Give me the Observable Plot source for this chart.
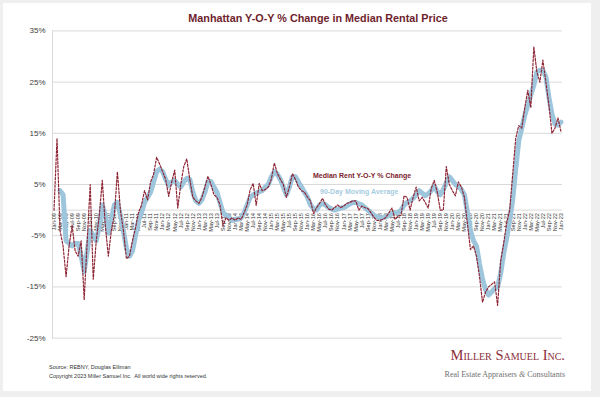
<!DOCTYPE html>
<html><head><meta charset="utf-8">
<script src="https://cdn.jsdelivr.net/npm/d3@7"></script>
<script src="https://cdn.jsdelivr.net/npm/@observablehq/plot@0.6"></script>
<style>
html,body{margin:0;padding:0;background:#efefef;}
#frame{position:relative;width:600px;height:397px;background:#efefef;overflow:hidden;font-family:"Liberation Sans",Arial,sans-serif;}
#card{position:absolute;left:3px;top:3px;width:588px;height:388px;background:#fff;}
#chart{position:absolute;left:0;top:0;}
.t{position:absolute;white-space:nowrap;}
</style></head><body>
<div id="frame">
<div id="card"></div>
<div id="chart"></div>
<div class="t" style="left:0;width:636px;top:12px;text-align:center;font-size:10.8px;line-height:12px;font-weight:bold;color:#6e1e2c">Manhattan Y-O-Y % Change in Median Rental Price</div>
<div class="t" style="left:313px;top:172px;font-size:7px;line-height:8px;font-weight:bold;color:#7c1d2c">Median Rent Y-O-Y % Change</div>
<div class="t" style="left:320px;top:188px;font-size:7px;line-height:8px;font-weight:bold;color:#a6cce0">90-Day Moving Average</div>
<div class="t" style="left:49px;top:364px;font-size:5.5px;line-height:6px;color:#333">Source: REBNY, Douglas Elliman</div>
<div class="t" style="left:49px;top:373px;font-size:5.5px;line-height:6px;color:#333">Copyright 2023 Miller Samuel Inc.&nbsp; All world wide rights reserved.</div>
<div class="t" style="right:35px;top:348px;font-family:'Liberation Serif',serif;font-variant:small-caps;font-size:14.5px;line-height:15px;color:#8c2d3a">Miller Samuel Inc.</div>
<div class="t" style="right:35px;top:370px;font-family:'Liberation Serif',serif;font-size:8px;line-height:9px;color:#707070">Real Estate Appraisers <i>&amp;</i> Consultants</div>
</div>
<script>
const yTicks = [35, 25, 15, 5, -5, -15, -25];

const xLabels = [
"Jan-09","Mar-09","May-09","Jul-09","Sep-09","Nov-09",
"Jan-10","Mar-10","May-10","Jul-10","Sep-10","Nov-10",
"Jan-11","Mar-11","May-11","Jul-11","Sep-11","Nov-11",
"Jan-12","Mar-12","May-12","Jul-12","Sep-12","Nov-12",
"Jan-13","Mar-13","May-13","Jul-13","Sep-13","Nov-13",
"Jan-14","Mar-14","May-14","Jul-14","Sep-14","Nov-14",
"Jan-15","Mar-15","May-15","Jul-15","Sep-15","Nov-15",
"Jan-16","Mar-16","May-16","Jul-16","Sep-16","Nov-16",
"Jan-17","Mar-17","May-17","Jul-17","Sep-17","Nov-17",
"Jan-18","Mar-18","May-18","Jul-18","Sep-18","Nov-18",
"Jan-19","Mar-19","May-19","Jul-19","Sep-19","Nov-19",
"Jan-20","Mar-20","May-20","Jul-20","Sep-20","Nov-20",
"Jan-21","Mar-21","May-21","Jul-21","Sep-21","Nov-21",
"Jan-22","Mar-22","May-22","Jul-22","Sep-22","Nov-22",
"Jan-23"];

// Monthly Y-O-Y % change, Jan-09 .. Jan-23
const yoy = [
0,14,-4,-7,-13,-7,-3,-8,-9,-6,-17.5,-6,
5,-13.5,-6,-1,5.8,-3,-9,-4,-1,7.5,0,-4,
-9.5,-9,-6,-3.5,-0.5,1,3.8,2,5.5,7,10.3,9,
7.5,6,2.7,5.5,7.8,0.4,5,8.5,10,6,2.5,1.8,
1.3,2.5,4.5,6.6,5,3,2.5,1,-3,-1.5,-2,-1.5,
-2,-1.5,-1.8,-0.5,1,4,5.2,0.9,5.2,3.8,4,4.5,
6,9.2,7.2,6,5,2.5,4.5,7.1,6,4.5,3.8,3.5,
2.5,1.8,-0.7,0.5,1.3,2.3,1,0.2,0,0.5,1,0.5,
0.8,1.3,1.5,1.8,1.8,0,0.8,0.5,0.3,-0.5,-1.4,-2,
-2,-1.8,-1.4,-0.5,0.4,-1.8,-1.2,-1,2.8,2.5,0,2.5,
4.5,1.8,2.5,1.5,0.4,4.2,5.8,3.5,0,0,8.5,5,
3.8,2.8,5.5,4.5,2.5,-2.7,-7.7,-7,-9,-13,-18,-16,
-15,-14.5,-14,-18.6,-10,-6.5,-2.5,0,7,14,16.5,16,
20,23.4,20,31.9,27,25,29.3,25,20.5,15,16,18,
15.3];

// 90-day moving average
const movingAvg = [
null,null,3.8,3,-6,-6.5,-7,-6.5,-6.5,-9,-12,-8,
-4,-5,-6,-3,1,-1,-4.5,-2,1,1.5,-1,-4,
-7.5,-9,-8,-5,-2,-0.5,1.5,2.5,3.5,5.5,7.5,8,
7.5,6,4.8,5.5,5.8,5,4.5,5.5,6.2,6,3.5,1.8,
1.3,2,3.5,5.5,5.6,4.5,3.5,1.5,-0.5,-1,-1.5,-2,
-1.8,-1.8,-1.5,-0.5,1,2.5,3,3.3,3.6,3.8,4.5,5,
6.5,7.5,7,6,4.5,3,4.5,6.5,6.5,5.5,4.5,3.5,
2.5,1,0.3,0,1,1.3,1,0.5,0.2,0,0.2,0.4,
0.5,0.8,1.2,1.5,1.5,1.2,1,0.5,0,-0.5,-1,-1.3,
-1.5,-1.5,-1.3,-1,-0.7,-0.5,-0.5,0,1,1.5,1.8,2.3,
3,3.8,3.3,2.8,3.2,3.8,4.7,3.6,3,4,5.3,6.5,
5.8,5,4.6,4,3,-0.5,-4,-6,-7,-10.5,-13.5,-15.5,
-16.6,-16,-15.3,-15,-12.4,-8.5,-5.5,-2,2,8,13.5,16,
18.5,20.5,22.5,24.4,27,27.3,27.3,26,22,18.8,16.8,16.6,
17.2];

const rows = yoy.map((v, i) => ({i, v}));
const maRows = movingAvg.map((v, i) => ({i, v})).filter(d => d.v != null);

const chart = Plot.plot({
  width: 600, height: 397,
  marginLeft: 52, marginRight: 38, marginTop: 30.4, marginBottom: 59.4,
  style: {background: "transparent", fontFamily: "Liberation Sans, Arial, sans-serif", color: "#404040"},
  x: {type: "linear", domain: [-0.5, 168.5], axis: null},
  y: {domain: [-25, 35]},
  marks: [
    Plot.ruleY(yTicks, {stroke: "#d9d9d9", strokeWidth: 1}),
    Plot.ruleY([0], {stroke: "#d9d9d9", strokeWidth: 1}),
    Plot.frame({anchor: "left", stroke: "#d9d9d9"}),
    Plot.axisY(yTicks, {tickSize: 0, tickPadding: 7, tickFormat: d => d + "%", fontSize: 8, label: null, fill: "#404040"}),
    Plot.text(xLabels, {x: (d, k) => k * 2, y: 0, text: d => d, rotate: -90, textAnchor: "end", dy: 3, fontSize: 5.6, fill: "#333"}),
    Plot.line(maRows, {x: "i", y: "v", stroke: "#9dc6dc", strokeWidth: 5, strokeLinejoin: "round", strokeLinecap: "round"}),
    Plot.line(rows, {x: "i", y: "v", stroke: "#8e2535", strokeWidth: 1.2, strokeDasharray: "2.2,1.6"})
  ]
});
document.getElementById("chart").appendChild(chart);
</script>
</body></html>
